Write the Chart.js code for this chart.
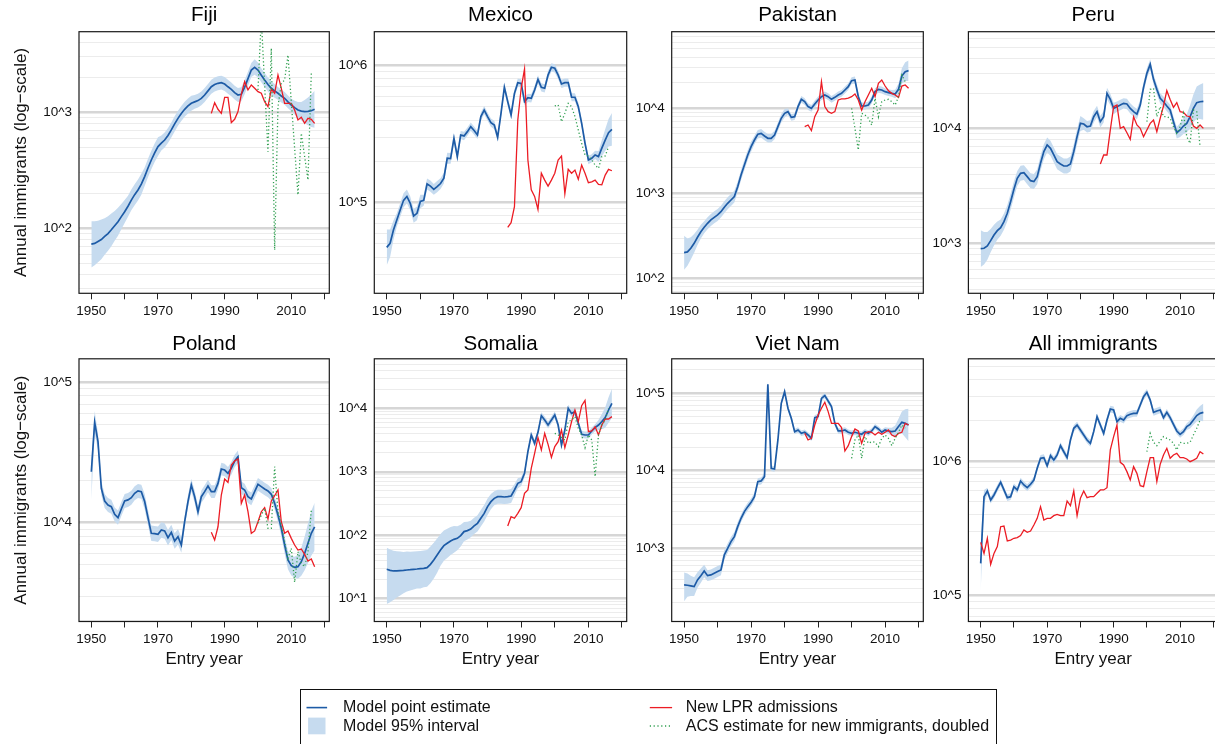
<!DOCTYPE html>
<html lang="en">
<head>
<meta charset="utf-8">
<title>Annual immigrants by entry year</title>
<script src="https://cdn.jsdelivr.net/npm/chart.js@4.4.1/dist/chart.umd.min.js"></script>
<style>
html,body{margin:0;padding:0;background:#fff;width:1215px;height:744px;overflow:hidden;}
#wrap{position:relative;width:1215px;height:744px;overflow:hidden;background:#fff;}
#wrap canvas{position:absolute;}
#legend{position:absolute;left:300px;top:688.5px;width:697px;height:56px;box-sizing:border-box;border:1.2px solid #111;font-family:"Liberation Sans",Arial,Helvetica,sans-serif;font-size:16px;color:#111;background:#fff;}
#legend .t{position:absolute;line-height:20px;white-space:nowrap;}
#legend svg{position:absolute;left:0;top:0;}
</style>
</head>
<body>
<div id="wrap">
  <div id="legend">
    <svg width="695" height="54">
      <line x1="5.5" y1="17.6" x2="26.1" y2="17.6" stroke="#1d5ba6" stroke-width="1.6"/>
      <rect x="7.1" y="27.6" width="17.4" height="16.7" fill="#c6dbef"/>
      <line x1="348.8" y1="17.6" x2="371.1" y2="17.6" stroke="#ec1c24" stroke-width="1.3"/>
      <line x1="348.8" y1="36" x2="371.1" y2="36" stroke="#2e9e4f" stroke-width="1.3" stroke-dasharray="1.2 2.6"/>
    </svg>
    <div class="t" style="left:42.1px;top:7.3px">Model point estimate</div>
    <div class="t" style="left:42.1px;top:26px">Model 95% interval</div>
    <div class="t" style="left:384.8px;top:7.3px">New LPR admissions</div>
    <div class="t" style="left:384.8px;top:26px">ACS estimate for new immigrants, doubled</div>
  </div>
</div>
<script>
// ---------- categories ----------
const YEARS = [1950,1951,1952,1953,1954,1955,1956,1957,1958,1959,1960,1961,1962,1963,1964,1965,1966,1967,1968,1969,
  1970,1971,1972,1973,1974,1975,1976,1977,1978,1979,1980,1981,1982,1983,1984,1985,1986,1987,1988,1989,
  1990,1991,1992,1993,1994,1995,1996,1997,1998,1999,2000,2001,2002,2003,2004,2005,2006,2007,2008,2009,
  2010,2011,2012,2013,2014,2015,2016,2017];
const LPR_YEARS = [1986,1987,1988,1989,1990,1991,1992,1993,1994,1995,1996,1997,1998,1999,2000,2001,
  2002,2003,2004,2005,2006,2007,2008,2009,2010,2011,2012,2013,2014,2015,2016,2017];
const ACS_YEARS = [2000,2001,2002,2003,2004,2005,2006,2007,2008,2009,2010,2011,2012,2013,2014,2015,2016];

// ---------- Fiji ----------
const fijiModel = [73,74,77,80,85,90,97,105,114,126, 139,155,175,195,214,240,279,331,388,447,
  506,543,577,631,705,794,887,977,1062,1135, 1197,1230,1262,1318,1409,1531,1663,1738,1778,1803,
  1754,1660,1578,1479,1409,1429,1644,1950,2317,2443, 2317,2089,1901,1738,1611,1531,1459,1380,1321,1230,
  1156,1096,1047,1023,1014,1019,1033,1062];
const fijiHigh = [115,115,116,119,122,127,134,141,150,162, 175,191,216,240,263,295,335,398,467,537,
  608,631,670,733,818,923,1030,1135,1233,1318, 1390,1413,1449,1514,1618,1758,1910,1995,2042,2070,
  2014,1905,1811,1698,1618,1641,1888,2239,2661,2871, 2692,2399,2183,1995,1849,1758,1656,1567,1500,1396,
  1312,1259,1230,1230,1276,1343,1426,1535];
const fijiLow = [46,48,51,54,59,64,70,78,86,98, 111,126,143,158,174,195,232,275,323,372,
  421,468,497,543,607,684,764,841,914,977, 1030,1072,1099,1148,1227,1334,1449,1514,1549,1570,
  1528,1445,1374,1288,1227,1245,1432,1698,2018,2104, 1995,1820,1656,1514,1403,1334,1285,1216,1164,1084,
  1019,955,891,851,805,773,748,735];
const fijiLPR = [980,1212,1062,980,1346,1346,815,871,1014,1429, 1837,1559,1722,1611,1507,1459,1236,1119,1578,1459,
  2099,1611,1196,1196,1196,1047,859,906,804,887, 871,804];
const fijiACS = [1560,6500,1700,458,3565,65,1120,1778,1900,3120,1230,490,194,659,415,261,2168];

// ---------- Mexico ----------
const mexicoModel = [47200,50500,63100,74700,88300,104000,111000,98900,80000,83600,
  102000,104000,137000,132000,125000,131000,138000,151000,211000,210000,
  295000,217000,312000,307000,330000,359000,336000,312000,425000,474000,
  425000,384000,369000,300000,449000,695000,546000,437000,628000,752000,
  743000,546000,583000,578000,664000,794000,695000,684000,855000,973000,
  957000,855000,735000,752000,752000,588000,588000,502000,379000,271000,
  205000,211000,223000,217000,250000,286000,324000,343000];
const mexicoHigh = [63700,63600,74100,83800,99100,117000,125000,111000,89800,93800,
  114000,114000,150000,145000,137000,144000,151000,165000,231000,230000,
  323000,233000,334000,329000,354000,385000,360000,334000,456000,508000,
  456000,412000,396000,322000,481000,745000,585000,468000,673000,806000,
  796000,585000,625000,620000,712000,851000,745000,733000,917000,1043000,
  1026000,917000,788000,806000,806000,630000,630000,538000,406000,291000,
  220000,226000,239000,238000,287000,344000,408000,452000];
const mexicoLow = [35000,40100,53700,66600,78700,92700,98900,88100,71300,74500,
  90900,94800,125000,120000,114000,119000,126000,138000,192000,192000,
  269000,202000,291000,286000,308000,335000,313000,291000,397000,442000,
  397000,358000,344000,280000,419000,648000,509000,408000,586000,702000,
  693000,509000,544000,539000,620000,741000,648000,638000,798000,908000,
  893000,798000,686000,702000,702000,549000,549000,468000,354000,253000,
  191000,197000,208000,198000,218000,238000,257000,260000];
const mexicoLPR = [66100,71400,93500,401000,684000,946000,205000,124000,111000,89300,
  164000,146000,132000,146000,164000,205000,219000,116000,175000,164000,
  173000,148000,188000,164000,140000,142000,146000,136000,135000,159000,175000,171000];
const mexicoACS = [508000,517000,390000,449000,531000,502000,425000,339000,271000,223000,219000,205000,188000,178000,217000,219000,256000];

// ---------- Pakistan ----------
const pakistanModel = [202,206,227,260,306,356,401,447,489,525, 560,612,689,767,839,919,1203,1648,2161,2833,
  3548,4246,4955,5081,4732,4446,4446,4864,6095,7638, 8730,9141,7834,7984,10470,12760,11980,10470,10000,11240,
  12530,13700,14350,13700,12760,13460,14350,15000,16410,17950, 21130,21530,13700,10650,10650,10940,12530,15700,16710,16410,
  15700,15280,15000,14730,16710,23990,26980,27670];
const pakistanHigh = [320,297,306,335,376,429,471,525,574,617, 658,719,809,902,986,1079,1380,1892,2483,3251,
  4074,4764,5559,5702,5309,4989,4989,5458,6839,8570, 9795,10020,8590,8750,11480,14000,13120,11480,10960,12330,
  13740,15030,15740,15030,14000,14760,15740,16440,17990,19680, 23170,23600,15030,11670,11670,11990,13740,17220,18320,17990,
  17220,16750,16440,16520,19630,29510,34750,36480];
const pakistanLow = [127,142,168,202,248,296,341,380,416,447, 476,521,586,653,714,782,1047,1435,1884,2466,
  3090,3784,4416,4529,4217,3963,3963,4335,5433,6808, 7780,8337,7145,7278,9550,11640,10910,9550,9120,10260,
  11430,12500,13090,12500,11640,12270,13090,13680,14960,16370, 19280,19630,12500,9705,9705,9977,11430,14320,15240,14960,
  14320,13930,13680,13120,14220,19500,20940,20990];
const pakistanLPR = [6095,6370,5470,7980,9550,20560,10470,9140,8730,9140, 12530,12880,12880,13210,13700,14730,12530,9550,11980,14350,
  17180,13700,19680,21530,18280,16110,15000,14350,13460,18280, 18790,17180];
const pakistanACS = [10000,5820,3240,8730,8350,7640,6370,13100,7980,11980,12530,12760,11980,10940,13700,24600,20560];

// ---------- Peru ----------
const peruModel = [906,912,955,1062,1189,1297,1377,1552,1833,2312, 2958,3683,4074,4130,3811,3516,3451,3811,4977,6281,
  7169,6714,5875,5142,4909,4713,4713,4909,6281,8472, 11050,10910,10330,10470,12620,13960,11430,12620,20090,17820,
  14890,15420,15920,16480,16260,14890,13960,13300,15920,22650, 29990,35890,26610,21780,18200,17020,15630,14420,11430,9163,
  9683,10470,11050,12620,14890,16710,17020,17140];
const peruHigh = [1309,1259,1259,1337,1462,1560,1618,1824,2153,2716, 3475,4276,4732,4797,4426,4083,4009,4426,5781,7295,
  8318,7798,6823,5970,5702,5470,5470,5702,7295,9840, 12820,12250,11590,11750,14160,15670,12820,14160,22540,20000,
  16710,17100,17660,18280,18030,16520,15490,14760,17660,25120, 33270,39810,29510,24150,20180,18880,17340,16000,12680,10280,
  11120,12300,13270,15890,19630,23070,24040,24770];
const peruLow = [627,661,724,843,966,1079,1172,1321,1560,1968, 2518,3170,3508,3556,3281,3027,2972,3281,4285,5408,
  6166,5781,5058,4426,4227,4055,4055,4227,5408,7295, 9506,9727,9204,9333,11250,12450,10190,11250,17910,15890,
  13270,13900,14350,14860,14660,13430,12590,11990,14350,20420, 27040,32360,23990,19630,16410,15350,14090,13000,10300,8166,
  8433,8913,9183,10020,11300,12110,12050,11860];
const peruLPR = [4909,5875,5875,9683,15420,15920,10000,10330,9163,8035, 12620,10690,10000,8472,9683,11050,11810,9354,12210,15630,
  21230,17820,15210,16710,13960,13770,12790,12620,10470,10000, 10690,10000];
const peruACS = [11430,21780,22230,12620,15420,12620,12620,12210,10330,9057,10330,13490,8472,7413,14420,13960,6934];

// ---------- Poland ----------
const polandModel = [23070,51880,37760,17580,14270,13360,13000,11460,10860,12510, 14270,14520,15070,16180,16830,16630,14130,10860,8395,8350,
  8260,8870,8730,7820,8530,7390,7940,6930,10160,14130, 18540,15310,11970,15310,16630,18240,16630,16630,19050,24100,
  23710,22470,24380,27480,29510,17750,17100,15310,14760,16630, 18750,18070,17380,16830,15920,13740,11350,9120,6930,5420,
  4940,4810,4860,5270,6040,7130,8400,9350];
const polandHigh = [27730,62370,43350,19720,16000,15000,14590,12850,12190,14030, 16000,16290,16900,18160,18880,18660,16030,12330,9528,9484,
  9376,10070,9908,8872,9683,8395,9016,7870,11270,15670, 20560,16980,13270,16980,18450,20230,18450,18450,21130,26730,
  26300,24950,27040,30480,32730,19680,18970,16980,16370,18450, 20800,20040,19280,18660,17660,15240,12740,10350,7962,6295,
  5808,5715,5902,6637,7962,9840,12130,13840];
const polandLow = [14550,43150,32890,15670,12710,11910,11590,10210,9683,11140, 12710,12940,13430,14420,15000,14830,12450,9572,7396,7362,
  7278,7816,7691,6887,7516,6516,6998,6109,9162,12740, 16710,13800,10790,13800,15000,16440,15000,15000,17180,21730,
  21380,20280,21980,24770,26610,16000,15420,13800,13300,15000, 16900,16290,15670,15170,14350,12390,10120,8035,6039,4667,
  4207,4046,3990,4188,4581,5164,5808,6324];
const polandLPR = [8530,7520,9350,15740,20460,19380,25760,27480,28440,13740, 15740,11970,8400,8730,10160,11970,12790,10620,14270,15560,
  17100,10160,8400,8730,7730,6930,6380,6490,5940,5330, 5510,4860];
const polandACS = [9890,11350,12650,9120,9120,25060,11970,9620,7330,5570,6560,3760,6210,5130,4860,6210,12300];

// ---------- Somalia ----------
const somaliaModel = [29,27.9,27.3,27.3,27.6,27.9,28.3,28.6,29,29.3, 29.7,30,30.8,34.7,40.6,48.7,58.5,68.4,74.5,81.1,
  86.1,89.3,98.4,114,118,125,140,154,185,221, 282,338,381,405,405,400,405,415,516,658,
  698,944,2075,3802,2806,4188,7656,6546,5458,6546, 7852,5458,2642,4550,10000,8337,8851,5808,3890,3802,
  3802,4395,4955,5458,6166,7129,9419,12000];
const somaliaHigh = [63.4,59.7,57,55.7,55.1,54.5,55.1,54.6,55.2,55.8, 56.5,57.3,58.6,66.2,75.7,88.7,104,119,126,135,
  140,138,146,161,163,169,188,207,249,299, 380,446,491,521,521,515,521,535,635,791,
  820,1096,2355,4315,3184,4753,8690,7430,6194,7430, 8913,6194,2999,5164,11350,9462,10050,6592,4416,4315,
  4315,4989,5623,6561,8128,10300,14930,20370];
const somaliaLow = [8.2,8.8,9.5,10.4,11.2,12.2,12.9,13.4,13.9,14.4, 14.5,15.1,15.4,17.4,20.8,25.6,32.9,39.4,43.9,48.9,
  53.1,57.7,66.5,80.5,85.3,92.9,104,114,137,164, 209,256,296,314,314,310,314,322,420,547,
  594,813,1828,3350,2472,3690,6745,5768,4808,5768, 6918,4808,2328,4009,8810,7345,7798,5117,3428,3350,
  3350,3873,4365,4539,4677,4932,5943,7063];
const somaliaLPR = [140,196,185,221,272,457,516,1132,1954,3451, 2202,4036,2704,1690,2489,2985,4550,2399,3802,6166,
  9419,6166,11020,13370,4285,4395,5140,3802,5458,6792, 6792,7396];
const somaliaACS = [4036,3802,3500,3162,6166,6546,7396,4842,3802,2399,3802,3162,838,3802,5458,6546,10000];

// ---------- Viet Nam ----------
const vietnamModel = [337,334,328,321,391,444,511,444,454,477, 501,526,820,1000,1219,1413,1901,2432,2965,3437,
  3908,4624,7211,7362,8375,129400,10720,10500,24830,73620, 104000,63530,47210,31770,33420,30270,31190,28770,26060,48080,
  49550,85310,92470,78890,66680,40640,32430,32430,33420,31190, 30270,31190,30270,29380,31770,30270,32430,36900,34360,31190,
  33420,32430,31770,32430,36900,41880,40640,38730];
const vietnamHigh = [488,472,442,423,492,547,614,522,533,560, 589,618,942,1148,1400,1622,2183,2729,3327,3855,
  4385,5188,7998,8166,9290,140300,11610,11380,26920,79800, 112700,68870,51170,34430,36220,32810,33810,31190,28250,52120,
  53700,92470,100200,85510,72280,44060,35160,35160,36220,33810, 32810,33810,32810,31840,34430,32810,35160,39990,37240,33810,
  36220,35560,35650,38110,46450,57810,61520,62810];
const vietnamLow = [208,237,243,243,310,361,425,378,386,406, 427,448,714,871,1062,1230,1656,2168,2642,3062,
  3483,4121,6501,6637,7551,119400,9886,9683,22910,67920, 95940,58610,43550,29310,30830,27930,28770,26550,24040,44360,
  45710,78710,85310,72780,61520,37500,29920,29920,30830,28770, 27930,28770,27930,27100,29310,27930,29920,34040,31700,28770,
  30830,29580,28310,27610,29310,30340,26850,23880];
const vietnamLPR = [30270,24830,26060,38730,52120,63530,75860,57540,40640,40640, 40640,35810,17910,20990,27420,34360,32430,22490,30270,31770,
  31190,28770,31190,29380,31190,33420,28770,27420,30270,31190, 40640,38730];
const vietnamACS = [14420,24830,28770,14420,27420,22490,23610,23170,20370,26060,28770,26060,20990,26060,31190,38730,35080];

// ---------- All immigrants ----------
const allModel = [173800,543300,598400,512900,559500,626600,695000,609500,534600,543300,
  644200,609500,709600,663700,633900,671400,722800,883100,1047000,1059000,
  922600,1096000,1016000,1109000,1300000,1172000,1059000,1432000,1750000,1849000,
  1698000,1560000,1432000,1352000,1652000,2133000,1849000,1603000,2014000,2432000,
  2393000,1959000,2075000,2014000,2173000,2223000,2259000,2259000,2606000,3006000,
  3236000,2838000,2296000,2350000,2393000,2099000,2296000,2099000,1871000,1671000,
  1578000,1652000,1799000,1871000,2014000,2173000,2259000,2296000];
const allHigh = [251000,610000,634000,543000,593000,664000,736000,645000,566000,575000,
  682000,645000,751000,703000,671000,711000,765000,935000,1109000,1121000,
  977000,1161000,1076000,1174000,1377000,1241000,1121000,1516000,1853000,1958000,
  1798000,1652000,1516000,1432000,1749000,2259000,1958000,1698000,2133000,2575000,
  2534000,2075000,2197000,2133000,2301000,2354000,2392000,2392000,2760000,3183000,
  3427000,3005000,2431000,2489000,2534000,2223000,2431000,2223000,1981000,1770000,
  1671000,1749000,1905000,2005000,2182000,2408000,2564000,2671000];
const allLow = [107000,484000,565000,484000,528000,592000,656000,575000,505000,513000,
  608000,575000,670000,627000,598000,634000,682000,834000,988000,1000000,
  871000,1035000,959000,1047000,1227000,1106000,1000000,1352000,1652000,1745000,
  1603000,1473000,1352000,1276000,1559000,2014000,1745000,1513000,1901000,2296000,
  2259000,1849000,1959000,1901000,2051000,2099000,2132000,2132000,2460000,2838000,
  3055000,2679000,2167000,2218000,2259000,1981000,2167000,1981000,1766000,1577000,
  1490000,1559000,1698000,1746000,1859000,1961000,1990000,1974000];
const allLPR = [248900,206100,266700,171000,206100,231200,325100,328900,254700,258800,
  266700,269800,279300,307600,295100,302000,335000,375000,458000,364700,
  375000,375000,392600,401800,392600,392600,504700,465600,598400,392600,
  528400,598400,534600,543300,543300,575400,609500,609500,633900,1208000,
  1517000,1849000,977500,933300,833700,722800,907800,809700,656200,644200,
  833700,1059000,1059000,703100,944000,1109000,1242000,1047000,1109000,1140000,
  1059000,1059000,1035000,988600,1016000,1047000,1172000,1127000];
const allACS = [1172000,1603000,1377000,1300000,1409000,1517000,1472000,1432000,1352000,1208000,1377000,1352000,1352000,1377000,1560000,1750000,2014000];

// ---------- axis ticks and labels ----------
const X_TICKS = [1950,1960,1970,1980,1990,2000,2010,2020];
const X_LABELS = [1950,1970,1990,2010];
const Y_POWERS = [10,100,1000,10000,100000,1000000];
const Y_POWER_LABELS = ['10^1','10^2','10^3','10^4','10^5','10^6'];
const PANEL_TITLES = ['Fiji','Mexico','Pakistan','Peru','Poland','Somalia','Viet Nam','All immigrants'];
const Y_TITLE = 'Annual immigrants (log\u2212scale)';
const X_TITLE = 'Entry year';

// ---------- styles / geometry ----------
const C_BLUE = '#1d5ba6', C_BAND = '#c6dbef', C_RED = '#ec1c24', C_GREEN = '#2e9e4f';
const C_MAJOR = '#d6d6d6', C_MINOR = '#ececec';
const X_MIN = 1946.3, X_MAX = 2021.4;
const FONT = '"Liberation Sans", Arial, Helvetica, sans-serif';
const COLS = [
  {cx:0,   cw:332, yw:79,   pr:2.7},
  {cx:314, cw:315, yw:60.3, pr:2.3},
  {cx:611, cw:315, yw:60.7, pr:2.7},
  {cx:908, cw:312, yw:60.4, pr:2.0}
];
const ROWS = [
  {cy:0,   ch:324, xh:30.7, tpt:2.7, tpb:4.4},
  {cy:327, ch:353, xh:58.5, tpt:5.0, tpb:2.2}
];

const PANELS = [
  {model:fijiModel, high:fijiHigh, low:fijiLow, lpr:fijiLPR, lprYears:LPR_YEARS, acs:fijiACS, ymin:27.5, ymax:4955},
  {model:mexicoModel, high:mexicoHigh, low:mexicoLow, lpr:mexicoLPR, lprYears:LPR_YEARS, acs:mexicoACS, ymin:21800, ymax:1770000},
  {model:pakistanModel, high:pakistanHigh, low:pakistanLow, lpr:pakistanLPR, lprYears:LPR_YEARS, acs:pakistanACS, ymin:67.3, ymax:79400},
  {model:peruModel, high:peruHigh, low:peruLow, lpr:peruLPR, lprYears:LPR_YEARS, acs:peruACS, ymin:371, ymax:68900},
  {model:polandModel, high:polandHigh, low:polandLow, lpr:polandLPR, lprYears:LPR_YEARS, acs:polandACS, ymin:1977, ymax:147000},
  {model:somaliaModel, high:somaliaHigh, low:somaliaLow, lpr:somaliaLPR, lprYears:LPR_YEARS, acs:somaliaACS, ymin:4.36, ymax:60400},
  {model:vietnamModel, high:vietnamHigh, low:vietnamLow, lpr:vietnamLPR, lprYears:LPR_YEARS, acs:vietnamACS, ymin:114, ymax:275600},
  {model:allModel, high:allHigh, low:allLow, lpr:allLPR, lprYears:YEARS, acs:allACS, ymin:64300, ymax:5740000}
];

// ---------- helpers ----------
function gridValues(min, max) {
  const out = [];
  for (let e = Math.floor(Math.log10(min)); e <= Math.ceil(Math.log10(max)); e++) {
    for (let k = 1; k <= 9; k++) {
      const v = k * Math.pow(10, e);
      if (v >= min && v <= max) out.push(v);
    }
  }
  return out;
}
function powerLabel(v) {
  for (let i = 0; i < Y_POWERS.length; i++) {
    if (Math.abs(v - Y_POWERS[i]) < 1e-6 * Y_POWERS[i]) return Y_POWER_LABELS[i];
  }
  return '';
}
function pts(xs, ys) { return ys.map((y, i) => ({x: xs[i], y: y})); }

const boxPlugin = {
  id: 'plotBox',
  afterDraw(chart) {
    const a = chart.chartArea, ctx = chart.ctx;
    ctx.save();
    ctx.strokeStyle = '#1a1a1a';
    ctx.lineWidth = 1.2;
    ctx.strokeRect(a.left, a.top, a.right - a.left, a.bottom - a.top);
    ctx.restore();
  }
};

Chart.defaults.font.family = FONT;
Chart.defaults.color = '#111';

const wrap = document.getElementById('wrap');
PANELS.forEach((p, idx) => {
  const col = COLS[idx % 4], row = ROWS[Math.floor(idx / 4)];
  const isLeft = idx % 4 === 0, isBottom = idx >= 4;
  const cv = document.createElement('canvas');
  cv.width = col.cw; cv.height = row.ch;
  cv.style.left = col.cx + 'px'; cv.style.top = row.cy + 'px';
  cv.style.width = col.cw + 'px'; cv.style.height = row.ch + 'px';
  wrap.insertBefore(cv, wrap.firstChild);
  const grid = gridValues(p.ymin, p.ymax);
  new Chart(cv, {
    type: 'line',
    data: {
      datasets: [
        {label:'band high', data: pts(YEARS, p.high), fill: '+1', backgroundColor: C_BAND,
         borderColor: 'rgba(0,0,0,0)', borderWidth: 0, pointRadius: 0, order: 10},
        {label:'band low', data: pts(YEARS, p.low), fill: false,
         borderColor: 'rgba(0,0,0,0)', borderWidth: 0, pointRadius: 0, order: 9},
        {label:'Model point estimate', data: pts(YEARS, p.model), fill: false,
         borderColor: C_BLUE, borderWidth: 1.7, pointRadius: 0, order: 3},
        {label:'New LPR admissions', data: pts(p.lprYears, p.lpr), fill: false,
         borderColor: C_RED, borderWidth: 1.3, pointRadius: 0, order: 2},
        {label:'ACS estimate for new immigrants, doubled', data: pts(ACS_YEARS, p.acs), fill: false,
         borderColor: C_GREEN, borderWidth: 1.3, borderDash: [1.2, 2.4], pointRadius: 0, order: 1}
      ]
    },
    options: {
      responsive: false,
      animation: false,
      devicePixelRatio: 1,
      layout: {padding: {left: 0, top: 0, right: col.pr, bottom: 0}},
      elements: {line: {tension: 0}},
      plugins: {
        legend: {display: false},
        tooltip: {enabled: false},
        title: {display: true, text: PANEL_TITLES[idx], fullSize: false, color: '#000',
                font: {size: 20.5, weight: 'normal', family: FONT},
                padding: {top: row.tpt, bottom: row.tpb}}
      },
      scales: {
        x: {
          type: 'linear', min: X_MIN, max: X_MAX, bounds: 'data',
          afterBuildTicks: s => { s.ticks = X_TICKS.map(v => ({value: v})); },
          afterFit: s => { s.height = row.xh; },
          ticks: {autoSkip: false, maxRotation: 0, minRotation: 0, padding: 3.4, color: '#111',
                  font: {size: 13.5},
                  callback: v => X_LABELS.includes(v) ? String(v) : ''},
          grid: {display: true, drawOnChartArea: false, drawTicks: true, tickLength: 6,
                 tickColor: '#222', tickWidth: 1},
          border: {display: false},
          title: isBottom ? {display: true, text: X_TITLE, color: '#111', font: {size: 17},
                             padding: {top: 0, bottom: 10.3}} : {display: false}
        },
        y: {
          type: 'logarithmic', min: p.ymin, max: p.ymax, bounds: 'data',
          afterBuildTicks: s => { s.ticks = grid.map(v => ({value: v})); },
          afterFit: s => { s.width = col.yw; },
          ticks: {autoSkip: false, padding: 7, color: '#111', font: {size: 13.5},
                  callback: v => powerLabel(v)},
          grid: {drawTicks: false,
                 color: c => powerLabel(c.tick.value) ? C_MAJOR : C_MINOR,
                 lineWidth: c => powerLabel(c.tick.value) ? 2.4 : 1},
          border: {display: false},
          title: isLeft ? {display: true, text: Y_TITLE, color: '#111', font: {size: 17},
                           padding: {top: 10.8, bottom: 0}} : {display: false}
        }
      }
    },
    plugins: [boxPlugin]
  });
});
</script>
</body>
</html>
